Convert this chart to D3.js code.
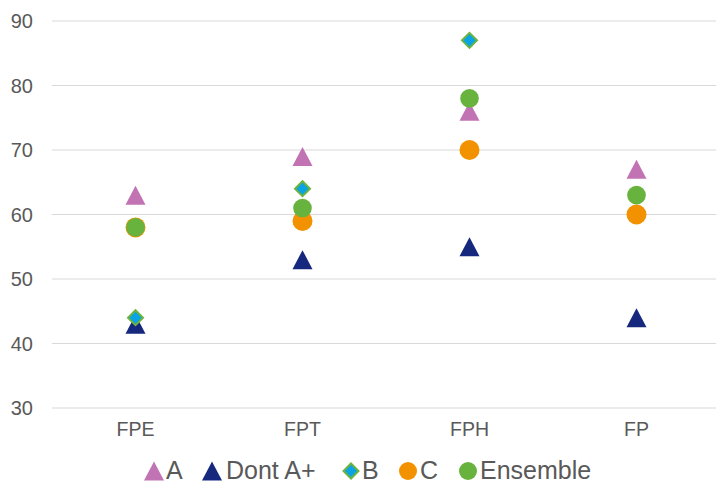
<!DOCTYPE html>
<html><head><meta charset="utf-8">
<script src="https://cdn.jsdelivr.net/npm/d3@7"></script>
<style>body{margin:0;background:#fff}svg{display:block;font-family:"Liberation Sans",Arial,sans-serif}</style>
</head><body>
<script>
const categories = ["FPE", "FPT", "FPH", "FP"];
const yTicks = [30, 40, 50, 60, 70, 80, 90];
const seriesNames = ["A", "Dont A+", "B", "C", "Ensemble"];
const valuesA = [63, 69, 76, 67];
const valuesDontA = [43, 53, 55, 44];
const valuesB = [44, 64, 87, null];
const valuesC = [58, 59, 70, 60];
const valuesEnsemble = [58, 61, 78, 63];

const W = 716, H = 484;
const svg = d3.select("body").append("svg").attr("width", W).attr("height", H);

const x = d3.scaleBand().domain(categories).range([52, 720]);
const y = d3.scaleLinear().domain([30, 90]).range([408, 21]);

svg.append("g").selectAll("line").data(yTicks).join("line")
  .attr("x1", 52).attr("x2", W).attr("y1", d => y(d)).attr("y2", d => y(d))
  .attr("stroke", "#d9d9d9").attr("stroke-width", 1);

svg.append("g").selectAll("text").data(yTicks).join("text")
  .attr("x", 33).attr("y", d => y(d)).attr("dy", "0.36em")
  .attr("text-anchor", "end").attr("font-size", 20).attr("fill", "#595959")
  .text(d => d);

svg.append("g").selectAll("text").data(categories).join("text")
  .attr("x", d => x(d) + x.bandwidth() / 2).attr("y", 436)
  .attr("text-anchor", "middle").attr("font-size", 19.5).attr("fill", "#595959")
  .text(d => d);

const line = d3.line();
const tri = line([[0, -9.5], [10, 9.5], [-10, 9.5]]) + "Z";
const dia = line([[0, -7.5], [7.5, 0], [0, 7.5], [-7.5, 0]]) + "Z";

const styles = {
  "A": {path: tri, fill: "#C173B3", stroke: "none", sw: 0},
  "Dont A+": {path: tri, fill: "#16287E", stroke: "none", sw: 0},
  "B": {path: dia, fill: "#0AA3E3", stroke: "#6CB33F", sw: 2},
  "C": {circle: 10, fill: "#F39200"},
  "Ensemble": {circle: 9.3, fill: "#68B33D"}
};
const seriesData = [valuesA, valuesDontA, valuesB, valuesC, valuesEnsemble];

seriesNames.forEach((name, i) => {
  const st = styles[name];
  const pts = categories.map((c, j) => ({c, v: seriesData[i][j]})).filter(d => d.v != null);
  const g = svg.append("g");
  if (st.circle) {
    g.selectAll("circle").data(pts).join("circle")
      .attr("cx", d => x(d.c) + x.bandwidth() / 2).attr("cy", d => y(d.v))
      .attr("r", st.circle).attr("fill", st.fill);
  } else {
    g.selectAll("path").data(pts).join("path")
      .attr("d", st.path)
      .attr("transform", d => `translate(${x(d.c) + x.bandwidth() / 2},${y(d.v)})`)
      .attr("fill", st.fill).attr("stroke", st.stroke).attr("stroke-width", st.sw);
  }
});

const legendSym = [154, 212, 351, 408, 468];
const legendTxt = [166, 226, 362, 420, 480];
const lg = svg.append("g");
seriesNames.forEach((name, i) => {
  const st = styles[name];
  const cx = legendSym[i], cy = 471;
  if (st.circle) {
    lg.append("circle").attr("cx", cx).attr("cy", cy).attr("r", 9).attr("fill", st.fill);
  } else {
    lg.append("path").attr("d", st.path).attr("transform", `translate(${cx},${cy})`)
      .attr("fill", st.fill).attr("stroke", st.stroke).attr("stroke-width", st.sw);
  }
  lg.append("text").attr("x", legendTxt[i]).attr("y", 478.5)
    .attr("font-size", 25).attr("fill", "#595959").text(name);
});
</script>
</body></html>
